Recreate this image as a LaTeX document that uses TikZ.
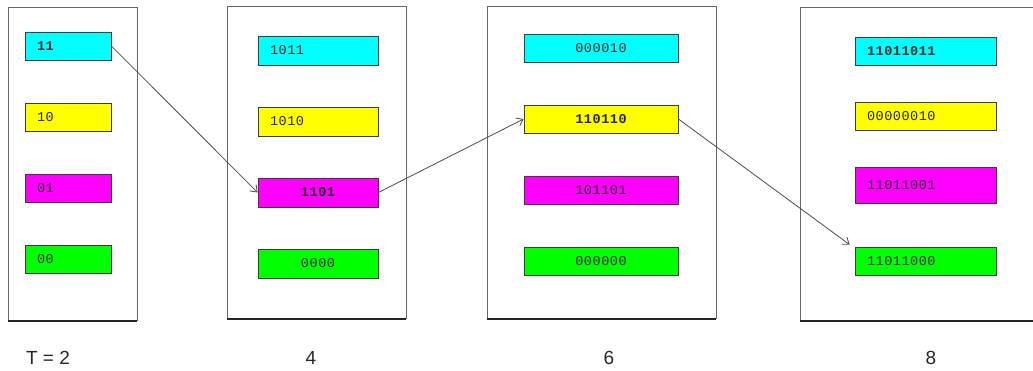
\documentclass[tikz,border=0pt]{standalone}
\usepackage{fontspec}
\setmainfont{Liberation Sans}
\newfontfamily\boxfont[LetterSpace=4]{Liberation Mono}
\usetikzlibrary{arrows.meta}
\definecolor{cyc}{RGB}{0,255,255}
\definecolor{yec}{RGB}{255,255,0}
\definecolor{mac}{RGB}{255,0,255}
\definecolor{grc}{RGB}{0,255,0}
\definecolor{edge}{RGB}{60,60,60}
\begin{document}
\begin{tikzpicture}[x=1pt,y=-1pt,
  panelline/.style={draw=black!60, line width=0.9pt},
  panelbase/.style={draw=black!85, line width=2pt},
  cell/.style={draw=edge, line width=0.8pt, minimum height=28pt, inner ysep=0pt,
    font=\boxfont\fontsize{13.5}{13.5}\selectfont, text=black!85},
  bcell/.style={font=\boxfont\bfseries\fontsize{13.5}{13.5}\selectfont},
  lcell/.style={cell, inner xsep=12pt, text width=#1, align=left},
  ccell/.style={cell, inner xsep=0pt, minimum width=#1, align=center},
  arr/.style={draw=black!70, line width=0.8pt, -{Straight Barb[length=6pt,width=9pt]}},
  lbl/.style={font=\fontsize{19}{19}\selectfont, text=black!85}
]
\useasboundingbox (0,0) rectangle (1033,370);
% panels
\draw[panelline] (8,321) -- (8,7) -- (137,7) -- (137,321);
\draw[panelbase] (8,321) -- (137,321);
\draw[panelline] (227,319) -- (227,6) -- (406,6) -- (406,319);
\draw[panelbase] (227,319) -- (406,319);
\draw[panelline] (487,319) -- (487,6) -- (716,6) -- (716,319);
\draw[panelbase] (487,319) -- (716,319);
\draw[panelline] (800,321) -- (800,7) -- (1033,7);
\draw[panelbase] (800,321) -- (1033,321);
% T = 2
\node[lcell=62pt, fill=cyc, bcell] (a1) at (68,46) {11};
\node[lcell=62pt, fill=yec] (a2) at (68,117.5) {10};
\node[lcell=62pt, fill=mac] (a3) at (68,188.5) {01};
\node[lcell=62pt, fill=grc] (a4) at (68,259.5) {00};
% 4
\node[lcell=96pt, fill=cyc, minimum height=29pt] (b1) at (318,50.5) {1011};
\node[lcell=96pt, fill=yec, minimum height=29pt] (b2) at (318,121.5) {1010};
\node[ccell=120pt, fill=mac, minimum height=29pt, bcell] (b3) at (318,192.5) {1101};
\node[ccell=120pt, fill=grc, minimum height=29pt] (b4) at (318,263.5) {0000};
% 6
\node[ccell=154pt, fill=cyc] (c1) at (601,48) {000010};
\node[ccell=154pt, fill=yec, bcell] (c2) at (601,119) {110110};
\node[ccell=154pt, fill=mac] (c3) at (601,190) {101101};
\node[ccell=154pt, fill=grc] (c4) at (601,261) {000000};
% 8
\node[lcell=117pt, fill=cyc, bcell] (d1) at (925.5,51) {11011011};
\node[lcell=117pt, fill=yec] (d2) at (925.5,116) {00000010};
\node[lcell=117pt, fill=mac, minimum height=36pt] (d3) at (925.5,185) {11011001};
\node[lcell=117pt, fill=grc] (d4) at (925.5,261) {11011000};
% arrows
\draw[arr] (a1.east) -- (b3.west);
\draw[arr] (b3.east) -- (c2.west);
\draw[arr] (c2.east) -- ([shift={(-5pt,2pt)}]d4.north west);
% labels
\node[lbl] (t2) at (48,358) {T = 2};
\node[lbl] (t4) at (311,358) {4};
\node[lbl] (t6) at (609,358) {6};
\node[lbl] (t8) at (931,358) {8};
\end{tikzpicture}
\end{document}
